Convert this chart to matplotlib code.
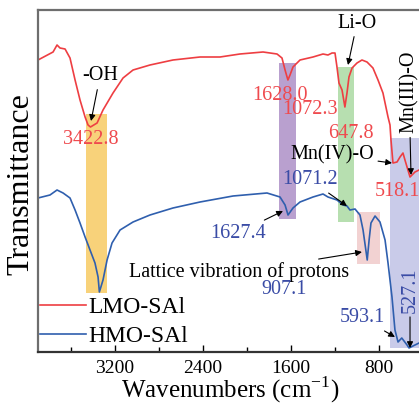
import numpy as np
import matplotlib
matplotlib.use('Agg')
import matplotlib.pyplot as plt
from matplotlib.patches import Rectangle

plt.rcParams['font.family'] = ['Liberation Serif', 'DejaVu Serif']
plt.rcParams['mathtext.fontset'] = 'custom'
plt.rcParams['mathtext.rm'] = 'Liberation Serif'

# FTIR spectra (wavenumber, transmittance in arbitrary units)
lmo_wn = [3900, 3763, 3727, 3700, 3654, 3609, 3563, 3518, 3472, 3445, 3423, 3363, 3309,
          3218, 3127, 3036, 2882, 2673, 2427, 2245, 2064, 1854, 1727, 1682, 1654, 1628,
          1609, 1582, 1518, 1400, 1309, 1264, 1227, 1200, 1182, 1164, 1136, 1110, 1091,
          1073, 1045, 1000, 955, 909, 855, 809, 764, 718, 700, 691, 673, 636, 609, 582,
          564, 518, 473, 436, 400]
lmo_t = [292, 300, 307, 304, 303, 294, 272, 252, 235, 227, 225, 229, 242,
         259, 274, 282, 287, 292, 295, 295, 298, 300, 298, 294, 282, 272,
         277, 285, 292, 295, 298, 297, 299, 299, 285, 269, 262, 245, 259,
         275, 284, 289, 292, 290, 284, 272, 259, 235, 227, 212, 189, 190, 195, 199,
         192, 175, 180, 182, 184]

hmo_wn = [3900, 3791, 3727, 3672, 3609, 3563, 3518, 3472, 3427, 3382, 3354, 3342, 3309,
          3272, 3227, 3154, 3036, 2882, 2673, 2427, 2127, 1818, 1700, 1654, 1627, 1582,
          1518, 1400, 1309, 1264, 1182, 1127, 1091, 1064, 1018, 973, 945, 907, 890,
          873, 836, 791, 745, 718, 682, 655, 627, 593, 545, 527, 473, 436, 400]
hmo_t = [154, 157, 162, 159, 154, 142, 129, 115, 102, 89, 75, 60, 72,
         92, 109, 122, 130, 137, 144, 150, 156, 159, 155, 147, 137, 144,
         150, 155, 158, 155, 152, 147, 146, 142, 143, 137, 122, 92, 112,
         129, 136, 130, 112, 89, 55, 22, 10, 14, 7, 4, 7, 9, 10]

# highlighted bands: (wn_high, wn_low, t_low, t_high, colour)
bands = [
    (3463, 3272, 59, 238, '#f8d27a'),
    (1709, 1554, 133, 289, '#b9a0cf'),
    (1173, 1027, 130, 285, '#b7dfb0'),
    (1000, 791, 88, 140, '#f2d2d2'),
    (700, 380, 4, 214, '#c9cbe9'),
]

red = '#ee3e42'
blue = '#2f5fae'
red_txt = '#ef4a4e'
blue_txt = '#3a4ca6'

fig = plt.figure(figsize=(4.19, 4.04), dpi=100)
ax = fig.add_axes([38/419, 52/404, 385/419, 342/404])

for x1, x2, y1, y2, c in bands:
    ax.add_patch(Rectangle((x2, y1), x1 - x2, y2 - y1, color=c, lw=0, zorder=0))

ax.plot(lmo_wn, lmo_t, color=red, lw=1.2, label='LMO-SAl')
ax.plot(hmo_wn, hmo_t, color=blue, lw=1.2, label='HMO-SAl')

ax.set_xlim(3900, 400)
ax.set_ylim(0, 342)
ax.set_xticks([3200, 2400, 1600, 800])
ax.set_xticks([3600, 2800, 2000, 1200], minor=True)
ax.set_yticks([])
ax.tick_params(axis='x', which='major', direction='in', length=5, width=1, pad=6, labelsize=14)
ax.tick_params(axis='x', which='minor', direction='in', length=3.5, width=1)
for s in ax.spines.values():
    s.set_color('#6e6e6e')
    s.set_linewidth(1.6)
ax.spines['bottom'].set_color('#333333')

ax.set_xlabel('Wavenumbers (cm$^{\\mathregular{-1}}$)', fontsize=18)
ax.xaxis.label.set_va('baseline')
ax.xaxis.set_label_coords(0.499, -0.132)
ax.set_ylabel('Transmittance', fontsize=23)
ax.yaxis.label.set_va('center')
ax.yaxis.set_label_coords(-0.044, 0.49)

fs = 14.5
arr = dict(arrowstyle='-|>', color='black', lw=0.8, mutation_scale=9, shrinkA=1, shrinkB=0)

ax.annotate('-OH', xy=(3418, 231), xytext=(3336, 276), ha='center', va='center', fontsize=fs, arrowprops=arr)
ax.text(3418, 213, '3422.8', color=red_txt, ha='center', va='center', fontsize=fs)
ax.text(1700, 256, '1628.0', color=red_txt, ha='center', va='center', fontsize=fs)
ax.text(1427, 242, '1072.3', color=red_txt, ha='center', va='center', fontsize=fs)
ax.text(1055, 219, '647.8', color=red_txt, ha='center', va='center', fontsize=fs)
ax.annotate('Li-O', xy=(1082, 287), xytext=(1000, 329), ha='center', va='center', fontsize=fs, arrowprops=arr)
ax.annotate('Mn(III)-O', xy=(509, 177), xytext=(527, 260), ha='center', va='center', rotation=90,
            fontsize=fs, arrowprops=arr)
ax.annotate('Mn(IV)-O', xy=(682, 189), xytext=(1227, 197), ha='center', va='center', fontsize=fs, arrowprops=arr)
ax.text(636, 161, '518.1', color=red_txt, ha='center', va='center', fontsize=fs)
ax.annotate('1071.2', xy=(1091, 146), xytext=(1427, 172), color=blue_txt, ha='center', va='center',
            fontsize=fs, arrowprops=arr)
ax.annotate('1627.4', xy=(1673, 141), xytext=(2082, 119), color=blue_txt, ha='center', va='center',
            fontsize=fs, arrowprops=arr)
ax.annotate('Lattice vibration of protons', xy=(955, 100), xytext=(2073, 80), ha='center', va='center',
            fontsize=fs, arrowprops=arr)
ax.text(1664, 62, '907.1', color=blue_txt, ha='center', va='center', fontsize=fs)
ax.annotate('593.1', xy=(655, 15), xytext=(955, 34), color=blue_txt, ha='center', va='center',
            fontsize=fs, arrowprops=arr)
ax.annotate('527.1', xy=(518, 4), xytext=(518, 62), color=blue_txt, ha='center', va='center', rotation=90,
            fontsize=fs, arrowprops=arr)

ax.legend(loc='upper left', bbox_to_anchor=(0.005, 0.162), frameon=False, fontsize=17,
          handlelength=1.95, handletextpad=0.1, labelspacing=0.32, borderpad=0, borderaxespad=0)

fig.savefig('out.png', dpi=100)
